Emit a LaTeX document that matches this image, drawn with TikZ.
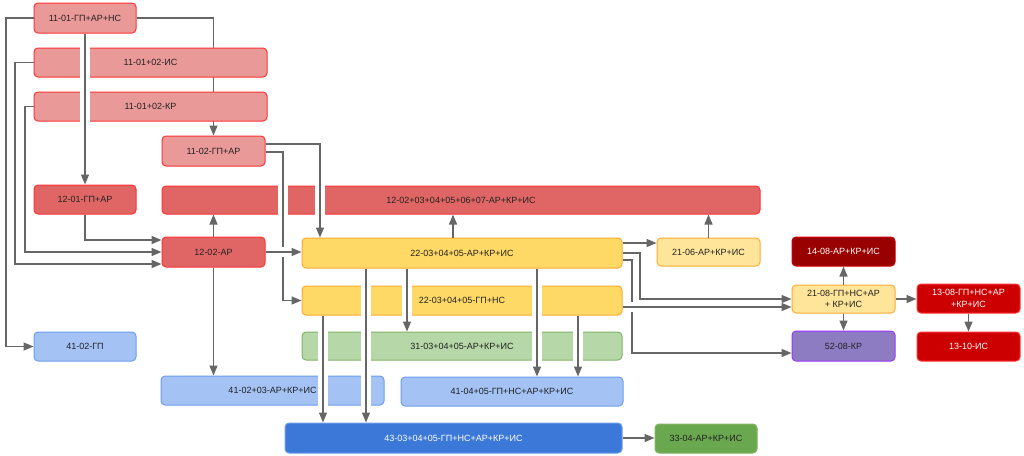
\documentclass[tikz,border=0pt]{standalone}
\usepackage{fontspec}
\setmainfont{Liberation Sans}
\usetikzlibrary{arrows.meta}
\definecolor{txt}{HTML}{222222}
\definecolor{ln}{HTML}{666666}
\definecolor{lredf}{HTML}{EA9999}
\definecolor{redst}{HTML}{FF3333}
\definecolor{mredf}{HTML}{E06666}
\definecolor{yelf}{HTML}{FFD966}
\definecolor{yelst}{HTML}{FFAA33}
\definecolor{lyelf}{HTML}{FFE599}
\definecolor{grnf}{HTML}{B6D7A8}
\definecolor{grnst}{HTML}{82B366}
\definecolor{bluef}{HTML}{A4C2F4}
\definecolor{bluest}{HTML}{6D9EEB}
\definecolor{dbluef}{HTML}{3C78D8}
\definecolor{dgrnf}{HTML}{6AA84F}
\definecolor{dkred}{HTML}{990000}
\definecolor{purf}{HTML}{8E7CC3}
\definecolor{purst}{HTML}{9933FF}
\definecolor{redf}{HTML}{CC0000}
\tikzset{
  box/.style={draw, rounded corners=4pt, line width=1pt, inner sep=0pt, align=center,
    font=\fontsize{9}{11.3}\selectfont, text=txt},
  wh/.style 2 args={minimum width=#1pt, minimum height=#2pt},
  lred/.style={box, fill=lredf, draw=redst},
  mred/.style={box, fill=mredf, draw=redst},
  yel/.style={box, fill=yelf, draw=yelst},
  lyel/.style={box, fill=lyelf, draw=yelst},
  grn/.style={box, fill=grnf, draw=grnst},
  blu/.style={box, fill=bluef, draw=bluest},
  dblu/.style={box, fill=dbluef, draw=bluest, text=white},
  dgrn/.style={box, fill=dgrnf, draw=grnst},
  dred/.style={box, fill=dkred, draw=redf, text=white},
  rred/.style={box, fill=redf, draw=redst, text=white},
  pur/.style={box, fill=purf, draw=purst},
  connplain/.style={draw=ln, line width=1.4pt, -{Triangle[length=10pt,width=8pt]}},
  conn/.style={connplain, preaction={draw=white, line width=10pt, -, shorten >=10pt, shorten <=1pt}},
}
\begin{document}
\begin{tikzpicture}[x=1pt,y=-1pt]
\useasboundingbox (0,0) rectangle (1024,455);
\fill[white] (0,0) rectangle (1024,455);
% nodes
\node[lred, wh={102}{30}] (A) at (85,18) {11-01-ГП+АР+НС};
\node[lred, wh={103}{30}] (D) at (213.5,151) {11-02-ГП+АР};
\draw[connplain] (A.east) -| (D.north);
\node[lred, wh={233}{29}] (B) at (150.5,62.5) {11-01+02-ИС};
\node[lred, wh={233}{29}] (C) at (150.5,106.5) {11-01+02-КР};
\node[mred, wh={102}{29}] (E) at (85,199.5) {12-01-ГП+АР};
\node[mred, wh={598}{28}] (F) at (461,200) {12-02+03+04+05+06+07-АР+КР+ИС};
\node[mred, wh={103}{30}] (G) at (213.5,252) {12-02-АР};
\node[yel, wh={320}{30}] (H) at (462,253) {22-03+04+05-АР+КР+ИС};
\node[yel, wh={320}{29}] (I) at (462,300.5) {22-03+04+05-ГП+НС};
\node[grn, wh={320}{28}] (J) at (462,346) {31-03+04+05-АР+КР+ИС};
\node[blu, wh={223}{29}] (K) at (272.5,390.5) {41-02+03-АР+КР+ИС};
\node[blu, wh={222}{29}] (L) at (512,391.5) {41-04+05-ГП+НС+АР+КР+ИС};
\node[dblu, wh={337}{30}] (M) at (453.5,438) {43-03+04+05-ГП+НС+АР+КР+ИС};
\node[dgrn, wh={102}{29}] (N) at (706,438.5) {33-04-АР+КР+ИС};
\node[blu, wh={102}{29}] (O) at (85,346.5) {41-02-ГП};
\node[lyel, wh={103}{28}] (P) at (708.5,252) {21-06-АР+КР+ИС};
\node[dred, wh={103}{29}] (Q) at (843.5,251.5) {14-08-АР+КР+ИС};
\node[lyel, wh={103}{28}] (R) at (843.5,299) {21-08-ГП+НС+АР\\+ КР+ИС};
\node[pur, wh={103}{30}] (S) at (843.5,346) {52-08-КР};
\node[rred, wh={103}{29}] (T) at (968.5,298.5) {13-08-ГП+НС+АР\\+КР+ИС};
\node[rred, wh={103}{29}] (U) at (968.5,346.5) {13-10-ИС};
% connectors
\draw[conn] (A.west) -- (A.west -| 6,0) |- (O.west);
\draw[conn] (A.south) -- (E.north);
\draw[conn] (B.west) -- (B.west -| 15,0) |- (G.west |- 0,264);
\draw[conn] (C.west) -- (C.west -| 25,0) |- (G.west);
\draw[conn] (E.south) |- (G.west |- 0,240);
\draw[conn] (G.north) -- (G.north |- F.south);
\draw[conn] (D.east |- 0,144) -| (H.north -| 320,0);
\draw[conn] (D.east |- 0,152) -| (I.west -| 283,0) -- (I.west);
\draw[conn] (G.east) -- (H.west |- G.east);
\draw[conn] (H.north -| 453,0) -- (F.south -| 453,0);
\draw[conn] (H.east |- 0,243) -- (P.west |- 0,243);
\draw[conn] (P.north) -- (P.north |- F.south);
\draw[conn] (H.east |- 0,253) -| (R.west -| 640,0) -- (R.west);
\draw[conn] (H.east |- 0,260) -- (632,260) -- (632,353) -- (S.west |- 0,353);
\draw[conn] (I.east |- 0,307) -- (R.west |- 0,307);
\draw[conn] (R.north) -- (Q.south);
\draw[conn] (R.south) -- (S.north);
\draw[conn] (R.east) -- (T.west |- R.east);
\draw[conn] (T.south) -- (U.north);
\draw[conn] (G.south) -- (G.south |- K.north);
\draw[conn] (I.south -| 323,0) -- (M.north -| 323,0);
\draw[conn] (H.south -| 366,0) -- (M.north -| 366,0);
\draw[conn] (H.south -| 407,0) -- (J.north -| 407,0);
\draw[conn] (H.south -| 537,0) -- (L.north -| 537,0);
\draw[conn] (I.south -| 578,0) -- (L.north -| 578,0);
\draw[conn] (M.east) -- (N.west |- M.east);
\end{tikzpicture}
\end{document}
